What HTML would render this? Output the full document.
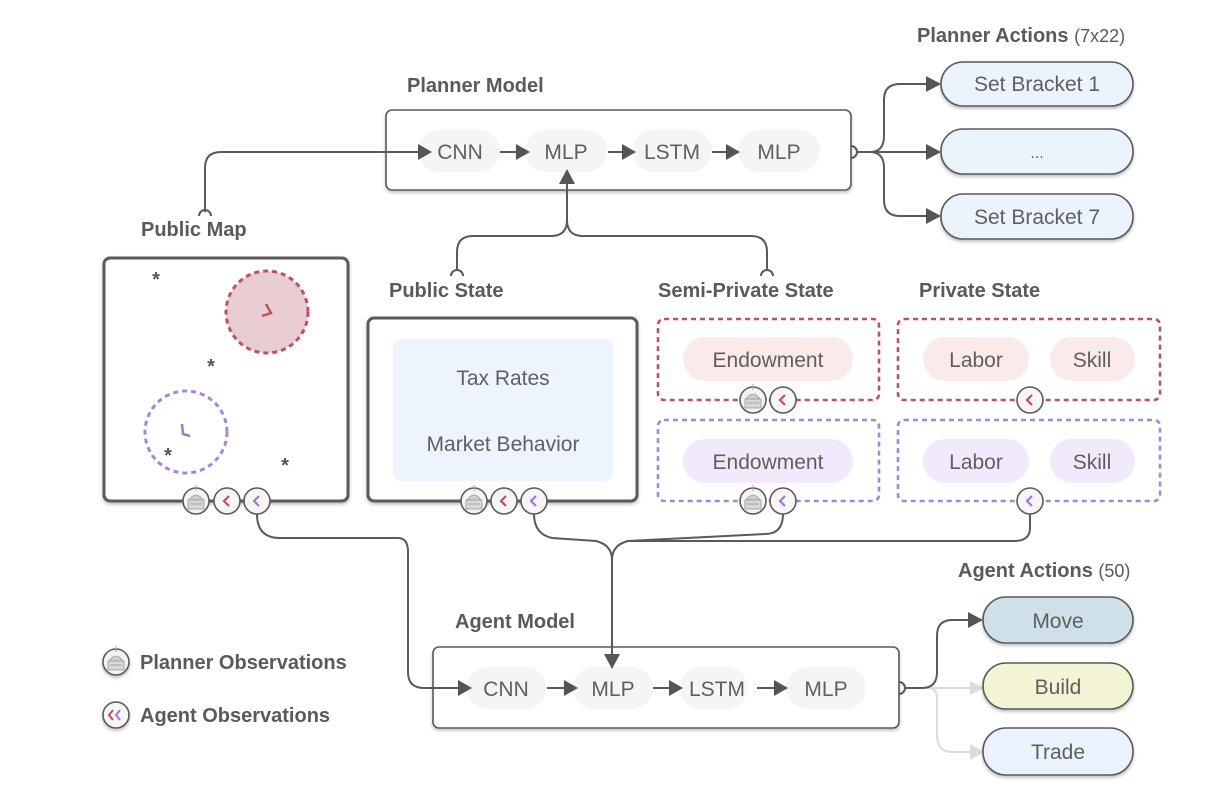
<!DOCTYPE html>
<html><head><meta charset="utf-8"><style>
html,body{margin:0;padding:0;background:#fff;}
svg{display:block;font-family:"Liberation Sans",sans-serif;}
.lb{font-weight:bold;font-size:20px;fill:#5a5a5a;}
.t{font-size:21px;fill:#5f5f5f;}
.ln{fill:none;stroke:#5a5a5a;stroke-width:2;}
.lg{fill:none;stroke:#dcdcdc;stroke-width:2;}
</style></head><body>
<svg width="1221" height="791" viewBox="0 0 1221 791" xmlns="http://www.w3.org/2000/svg">
<defs>
<filter id="sh" x="-10%" y="-10%" width="130%" height="140%"><feDropShadow dx="0" dy="2" stdDeviation="1.5" flood-color="#000" flood-opacity="0.25"/></filter>
<g id="pi">
<circle r="13" fill="#f4f4f4" stroke="#5a5a5a" stroke-width="1.6"/>
<path d="M-7,-1 Q0,-11 7,-1 Z" fill="#d0d0d0" stroke="#999" stroke-width="0.8"/>
<rect x="-8" y="-1" width="16" height="9" fill="#d8d8d8" stroke="#999" stroke-width="0.8"/>
<line x1="0" y1="-10" x2="0" y2="-16" stroke="#aaa" stroke-width="1"/>
<line x1="-6" y1="3" x2="6" y2="3" stroke="#999" stroke-width="0.8"/>
</g>
<g id="ar"><circle r="13" fill="#f6f6f6" stroke="#5a5a5a" stroke-width="1.6"/><path d="M2,-5 L-3,0 L2,5" fill="none" stroke="#c0505e" stroke-width="2.2"/></g>
<g id="ap"><circle r="13" fill="#f6f6f6" stroke="#5a5a5a" stroke-width="1.6"/><path d="M2,-5 L-3,0 L2,5" fill="none" stroke="#9a7ad8" stroke-width="2.2"/></g>
</defs>

<!-- Planner -->
<text class="lb" x="407" y="92">Planner Model</text>
<rect x="386" y="110" width="465" height="80" rx="6" fill="#fff" stroke="#5a5a5a" stroke-width="1.6" filter="url(#sh)"/>
<rect x="418" y="130" width="82" height="42" rx="21" fill="#f5f5f5"/>
<rect x="525" y="130" width="82" height="42" rx="21" fill="#f5f5f5"/>
<rect x="632" y="130" width="80" height="42" rx="21" fill="#f5f5f5"/>
<rect x="738" y="130" width="82" height="42" rx="21" fill="#f5f5f5"/>
<text class="t" x="460" y="159" text-anchor="middle">CNN</text>
<text class="t" x="566" y="159" text-anchor="middle">MLP</text>
<text class="t" x="672" y="159" text-anchor="middle">LSTM</text>
<text class="t" x="779" y="159" text-anchor="middle">MLP</text>
<path class="ln" d="M500,152 H518 M608,152 H624 M712,152 H728"/>
<path d="M516,144 L530,152 L516,160Z M622,144 L636,152 L622,160Z M726,144 L740,152 L726,160Z" fill="#555"/>

<path class="ln" d="M205,212 V168 Q205,152 221,152 H420"/>
<path d="M418,144 L432,152 L418,160Z" fill="#555"/>
<path class="ln" d="M199,216 A6,6 0 0 1 211,216"/>

<path class="ln" d="M457,270 V252 Q457,236 473,236 H551 Q567,236 567,220 V178 M767,270 V252 Q767,236 751,236 H583 Q567,236 567,220"/>
<path d="M559,184 L567,169 L575,184Z" fill="#555"/>
<path class="ln" d="M451,276 A6,6 0 0 1 463,276 M761,276 A6,6 0 0 1 773,276"/>

<!-- Planner actions -->
<text class="lb" x="917" y="42">Planner Actions <tspan style="font-weight:normal;font-size:18px">(7x22)</tspan></text>
<path class="ln" d="M851,146 A6,6 0 0 1 851,158 M857,152 H870 Q884,152 884,136 V100 Q884,84 900,84 H928 M870,152 H928 M870,152 Q884,152 884,168 V200 Q884,216 900,216 H928"/>
<path d="M926,76 L941,84 L926,92Z M926,144 L941,152 L926,160Z M926,208 L941,216 L926,224Z" fill="#555"/>
<rect x="941" y="62" width="192" height="44" rx="22" fill="#ebf3fd" stroke="#5a5a5a" stroke-width="1.6" filter="url(#sh)"/>
<rect x="941" y="129" width="192" height="45" rx="22" fill="#ebf3fd" stroke="#5a5a5a" stroke-width="1.6" filter="url(#sh)"/>
<rect x="941" y="194" width="192" height="45" rx="22" fill="#ebf3fd" stroke="#5a5a5a" stroke-width="1.6" filter="url(#sh)"/>
<text class="t" x="1037" y="91" text-anchor="middle">Set Bracket 1</text>
<text class="t" x="1037" y="158" text-anchor="middle" style="font-size:16px">...</text>
<text class="t" x="1037" y="224" text-anchor="middle">Set Bracket 7</text>

<!-- Public Map -->
<text class="lb" x="141" y="236">Public Map</text>
<rect x="104" y="258" width="244" height="243" rx="6" fill="#fff" stroke="#5a5a5a" stroke-width="3" filter="url(#sh)"/>
<circle cx="267" cy="312" r="41" fill="#e8cdd3" stroke="#c0505e" stroke-width="3" stroke-dasharray="5,4"/>
<path d="M266,304 L271,313 L262,316" fill="none" stroke="#c0505e" stroke-width="2.5"/>
<circle cx="186" cy="432" r="41" fill="none" stroke="#a586d8" stroke-width="3" stroke-dasharray="5,4"/>
<path d="M182,424 L183,434 L190,436" fill="none" stroke="#9a7ad8" stroke-width="2.5"/>
<g font-size="20" font-weight="bold" fill="#555" text-anchor="middle">
<text x="156" y="286">*</text><text x="211" y="373">*</text><text x="168" y="462">*</text><text x="285" y="472">*</text></g>
<use href="#pi" x="196" y="501"/><use href="#ar" x="227" y="501"/><use href="#ap" x="257" y="501"/>

<!-- Public State -->
<text class="lb" x="389" y="297">Public State</text>
<rect x="368" y="318" width="269" height="183" rx="6" fill="#fff" stroke="#5a5a5a" stroke-width="3" filter="url(#sh)"/>
<rect x="393" y="339" width="220" height="142" rx="8" fill="#eef4fd"/>
<text class="t" x="503" y="385" text-anchor="middle">Tax Rates</text>
<text class="t" x="503" y="451" text-anchor="middle">Market Behavior</text>
<use href="#pi" x="474" y="501"/><use href="#ar" x="504" y="501"/><use href="#ap" x="534" y="501"/>

<!-- Semi-private -->
<text class="lb" x="658" y="297">Semi-Private State</text>
<rect x="658" y="319" width="221" height="81" rx="6" fill="#fff" stroke="#c0505e" stroke-width="2.6" stroke-dasharray="5,4"/>
<rect x="683" y="337" width="170" height="44" rx="22" fill="#fbeaea"/>
<text class="t" x="768" y="367" text-anchor="middle">Endowment</text>
<use href="#pi" x="753" y="400"/><use href="#ar" x="783" y="400"/>
<rect x="658" y="420" width="221" height="81" rx="6" fill="#fff" stroke="#a586d8" stroke-width="2.6" stroke-dasharray="5,4"/>
<rect x="683" y="439" width="170" height="44" rx="22" fill="#f1eafa"/>
<text class="t" x="768" y="469" text-anchor="middle">Endowment</text>
<use href="#pi" x="753" y="501"/><use href="#ap" x="783" y="501"/>

<!-- Private -->
<text class="lb" x="919" y="297">Private State</text>
<rect x="898" y="319" width="262" height="81" rx="6" fill="#fff" stroke="#c0505e" stroke-width="2.6" stroke-dasharray="5,4"/>
<rect x="923" y="337" width="106" height="44" rx="22" fill="#fbeaea"/>
<rect x="1050" y="337" width="85" height="44" rx="22" fill="#fbeaea"/>
<text class="t" x="976" y="367" text-anchor="middle">Labor</text>
<text class="t" x="1092" y="367" text-anchor="middle">Skill</text>
<use href="#ar" x="1030" y="400"/>
<rect x="898" y="420" width="262" height="81" rx="6" fill="#fff" stroke="#a586d8" stroke-width="2.6" stroke-dasharray="5,4"/>
<rect x="923" y="439" width="106" height="44" rx="22" fill="#f1eafa"/>
<rect x="1050" y="439" width="85" height="44" rx="22" fill="#f1eafa"/>
<text class="t" x="976" y="469" text-anchor="middle">Labor</text>
<text class="t" x="1092" y="469" text-anchor="middle">Skill</text>
<use href="#ap" x="1030" y="501"/>

<!-- Agent Model box -->
<text class="lb" x="455" y="628">Agent Model</text>
<rect x="433" y="647" width="466" height="81" rx="6" fill="#fff" stroke="#5a5a5a" stroke-width="1.6" filter="url(#sh)"/>
<rect x="466" y="667" width="80" height="42" rx="21" fill="#f5f5f5"/>
<rect x="573" y="667" width="80" height="42" rx="21" fill="#f5f5f5"/>
<rect x="680" y="667" width="68" height="42" rx="21" fill="#f5f5f5"/>
<rect x="786" y="667" width="80" height="42" rx="21" fill="#f5f5f5"/>
<text class="t" x="506" y="696" text-anchor="middle">CNN</text>
<text class="t" x="613" y="696" text-anchor="middle">MLP</text>
<text class="t" x="717" y="696" text-anchor="middle">LSTM</text>
<text class="t" x="826" y="696" text-anchor="middle">MLP</text>
<path class="ln" d="M547,688 H566 M653,688 H670 M757,688 H776"/>
<path d="M564,680 L578,688 L564,696Z M669,680 L683,688 L669,696Z M774,680 L788,688 L774,696Z" fill="#555"/>

<!-- Lower connectors (on top of box) -->
<path class="ln" d="M257,514 Q257,538 280,538 H398 Q408,538 408,552 V672 Q408,688 424,688 H460"/>
<path d="M458,680 L472,688 L458,696Z" fill="#555"/>
<path class="ln" d="M534,514 Q534,534 552,538 L596,541 Q612,545 612,560 V656 M783,514 Q783,534 765,534 L628,541 Q612,545 612,560 M1030,514 V528 Q1030,541 1014,541 H628"/>
<path d="M604,654 L612,669 L620,654Z" fill="#555"/>

<!-- Agent actions -->
<text class="lb" x="958" y="577">Agent Actions <tspan style="font-weight:normal;font-size:18px">(50)</tspan></text>
<path class="lg" d="M905,688 H928 Q937,688 937,698 V735 Q937,752 952,752 H972 M905,688 H972"/>
<path d="M970,681 L984,688 L970,695Z M970,744 L984,752 L970,760Z" fill="#dcdcdc"/>
<path class="ln" d="M899,682 A6,6 0 0 1 899,694 M905,688 H922 Q937,688 937,672 V636 Q937,620 952,620 H970"/>
<path d="M968,612 L983,620 L968,628Z" fill="#555"/>
<rect x="983" y="597" width="150" height="46" rx="23" fill="#cfe0e8" stroke="#5a5a5a" stroke-width="1.6" filter="url(#sh)"/>
<rect x="983" y="663" width="150" height="46" rx="23" fill="#f2f4d4" stroke="#5a5a5a" stroke-width="1.6" filter="url(#sh)"/>
<rect x="983" y="728" width="150" height="47" rx="23" fill="#e9f2fd" stroke="#5a5a5a" stroke-width="1.6" filter="url(#sh)"/>
<text class="t" x="1058" y="628" text-anchor="middle">Move</text>
<text class="t" x="1058" y="694" text-anchor="middle">Build</text>
<text class="t" x="1058" y="759" text-anchor="middle">Trade</text>

<!-- Legend -->
<use href="#pi" x="116" y="662" filter="url(#sh)"/>
<text class="lb" x="140" y="669">Planner Observations</text>
<g filter="url(#sh)"><circle cx="116" cy="715" r="13" fill="#f6f6f6" stroke="#5a5a5a" stroke-width="1.6"/>
<path d="M113,710 L109,715 L113,720" fill="none" stroke="#c0505e" stroke-width="2"/>
<path d="M120,710 L116,715 L120,720" fill="none" stroke="#9a7ad8" stroke-width="2"/></g>
<text class="lb" x="140" y="722">Agent Observations</text>
</svg>
</body></html>
